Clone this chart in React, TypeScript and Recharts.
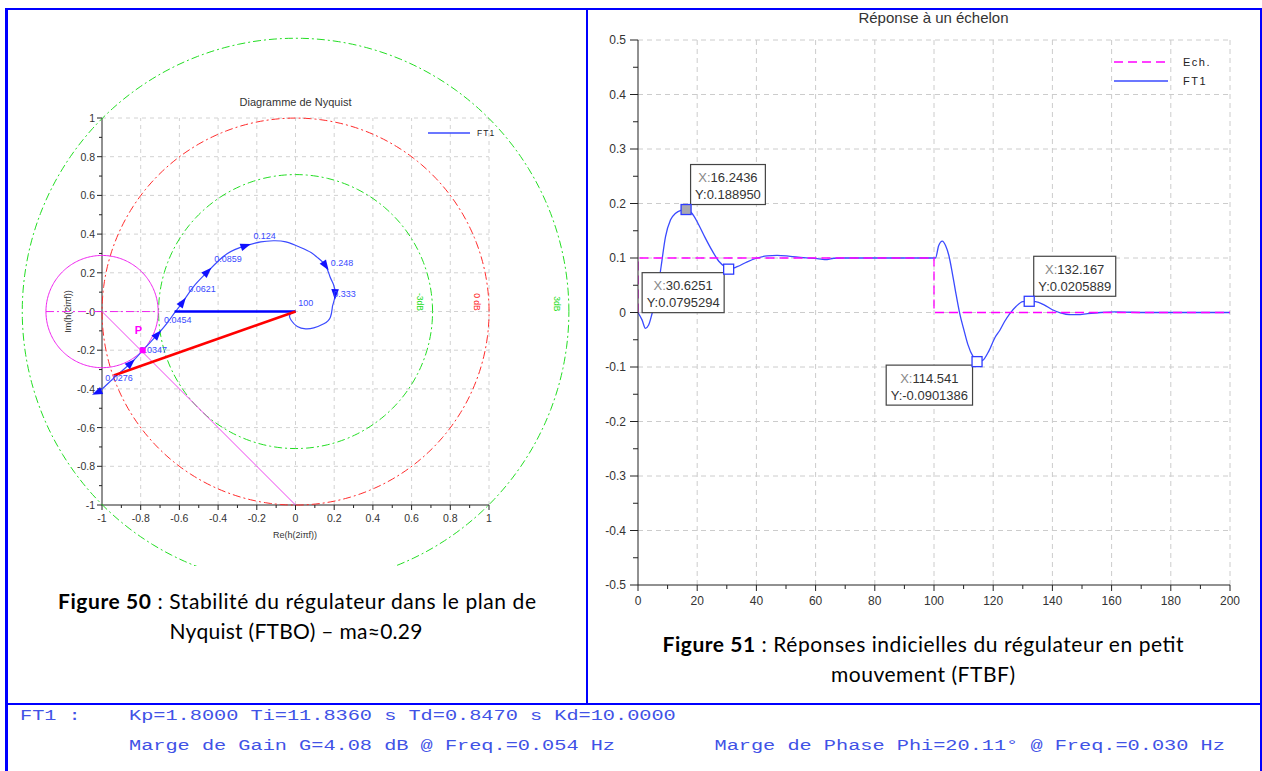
import React from 'react';
import { ComposedChart, Line, Scatter, XAxis, YAxis, ReferenceLine } from 'recharts';

const SANS = "'Liberation Sans', Arial, Helvetica, sans-serif";
const MONO = "'Liberation Mono', 'Courier New', monospace";
const CAPTION = "Lato, 'Open Sans', sans-serif";

/* ================= Figure 50 : Nyquist (FTBO) ================= */
const nyqRe = [-1.03, -1.005, -0.93, -0.851, -0.79, -0.713, -0.66, -0.621, -0.584, -0.528, -0.455, -0.356, -0.258, -0.18, -0.115, -0.05, 0.026, 0.08, 0.112, 0.155, 0.178, 0.196, 0.204, 0.195, 0.19, 0.18, 0.146, 0.094, 0.052, 0.009, -0.022, -0.031, -0.017, 0];
const nyqIm = [-0.415, -0.404, -0.335, -0.266, -0.201, -0.118, -0.055, 0.0, 0.048, 0.128, 0.206, 0.298, 0.34, 0.36, 0.366, 0.36, 0.331, 0.305, 0.28, 0.237, 0.18, 0.14, 0.09, 0.042, 0.022, -0.029, -0.063, -0.084, -0.089, -0.077, -0.046, -0.021, -0.003, 0];
const nyqArrowRe = [-1.026, -0.851, -0.713, -0.584, -0.455, -0.258, 0.155, 0.204];
const nyqArrowIm = [-0.418, -0.266, -0.118, 0.048, 0.206, 0.34, 0.237, 0.09];
const nyqArrowBackward = [true, false, false, false, false, false, false, false];
const nyqFreqLabels = ['0.0276', '0.0347', '0.0454', '0.0621', '0.0859', '0.124', '0.248', '0.333', '100'];
const nyqFreqRe = [-0.984, -0.807, -0.68, -0.554, -0.42, -0.218, 0.182, 0.195, 0.014];
const nyqFreqIm = [-0.345, -0.199, -0.044, 0.116, 0.27, 0.392, 0.252, 0.09, 0.045];
const circleGainsDb = [-3, 0, 3];
const circleLabels = ['-3dB', '0 dB', '3dB'];
const circleLabelRe = [0.643, 0.938, 1.35];
const circleLabelIm = [0.05, 0.05, 0.04];
const modulusCenterRe = -1;
const modulusCenterIm = 0;
const modulusMargin = 0.29;
const gainMarginRe = [-0.625, 0];
const gainMarginIm = [0, 0];
const phaseMarginRe = [-0.94, 0];
const phaseMarginIm = [-0.33, 0];
const diagRe = [-1, 0];
const diagIm = [0, -1];
const pointPRe = -0.79;
const pointPIm = -0.2;
const pLabelRe = -0.812;
const pLabelIm = -0.095;
const nyqMajor = [-1, -0.8, -0.6, -0.4, -0.2, 0, 0.2, 0.4, 0.6, 0.8, 1];
const nyqMinor = [-0.9, -0.7, -0.5, -0.3, -0.1, 0.1, 0.3, 0.5, 0.7, 0.9];
const nyqXLabels = ['-1', '-0.8', '-0.6', '-0.4', '-0.2', '0', '0.2', '0.4', '0.6', '0.8', '1'];
const nyqYLabels = ['-1', '-0.8', '-0.6', '-0.4', '-0.2', '-0', '0.2', '0.4', '0.6', '0.8', '1'];

/* ================= Figure 51 : step response (FTBF) ================= */
const ftT = [0, 1.4, 2.5, 3.6, 4.8, 6.5, 7.8, 9.3, 11, 12.7, 14.5, 16.2436, 18.9, 20.5, 22.8, 25.1, 27.3, 29.6, 30.6251, 33.5, 36.9, 40.3, 43.6, 47, 51.4, 55.9, 60.5, 63.9, 66.1, 69.5, 80, 90, 100, 100.5, 101.6, 102.8, 103.9, 105, 106.2, 107.3, 108.7, 110.1, 111.4, 113.3, 114.541, 116.4, 118.6, 120.7, 122.2, 123.8, 125.5, 127.7, 130, 132.167, 134.3, 137.2, 140, 142.9, 145.7, 148.5, 151.9, 156.4, 161, 172, 185, 200];
const ftY = [0, -0.014, -0.029, -0.023, -0.001, 0.035, 0.084, 0.139, 0.17, 0.182, 0.1875, 0.18895, 0.177, 0.161, 0.136, 0.113, 0.094, 0.083, 0.0795294, 0.084, 0.093, 0.1, 0.104, 0.105, 0.103, 0.1005, 0.099, 0.097, 0.0995, 0.1, 0.1, 0.1, 0.1, 0.1, 0.123, 0.131, 0.123, 0.105, 0.072, 0.038, -0.002, -0.032, -0.058, -0.082, -0.0901386, -0.088, -0.07, -0.045, -0.033, -0.017, -0.003, 0.011, 0.02, 0.0205889, 0.02, 0.014, 0.005, -0.001, -0.004, -0.004, -0.002, 0, 0.001, 0, 0, 0];
const echT = [0, 0, 100, 100, 200];
const echY = [0, 0.1, 0.1, 0, 0];
const tipX = [16.2436, 30.6251, 114.541, 132.167];
const tipY = [0.18895, 0.0795294, -0.0901386, 0.0205889];
const tipXText = ['16.2436', '30.6251', '114.541', '132.167'];
const tipYText = ['0.188950', '0.0795294', '-0.0901386', '0.0205889'];
const tipPlacement = ['ur', 'll', 'll', 'ur'];
const tipSelected = [true, false, false, false];
const rXMajor = [0, 20, 40, 60, 80, 100, 120, 140, 160, 180, 200];
const rXMinor = [10, 30, 50, 70, 90, 110, 130, 150, 170, 190];
const rXLabels = ['0', '20', '40', '60', '80', '100', '120', '140', '160', '180', '200'];
const rYMajor = [-0.5, -0.4, -0.3, -0.2, -0.1, 0, 0.1, 0.2, 0.3, 0.4, 0.5];
const rYMinor = [-0.45, -0.35, -0.25, -0.15, -0.05, 0.05, 0.15, 0.25, 0.35, 0.45];
const rYLabels = ['-0.5', '-0.4', '-0.3', '-0.2', '-0.1', '0', '0.1', '0.2', '0.3', '0.4', '0.5'];

/* ---------------- derived tables ---------------- */
const sortNum = (a: number[]) => [...a].sort((p, q) => p - q);
const nyqTicks = sortNum([...nyqMajor, ...nyqMinor]);
const rXTicks = sortNum([...rXMajor, ...rXMinor]);
const rYTicks = sortNum([...rYMajor, ...rYMinor]);

const nyqCurve = nyqRe.map((x, i) => ({ x, y: nyqIm[i] }));
const nyqArrows = nyqArrowRe.map((x, k) => {
  const y = nyqArrowIm[k];
  let best = 0;
  let bd = Infinity;
  nyqCurve.forEach((p, i) => {
    const d = (p.x - x) ** 2 + (p.y - y) ** 2;
    if (d < bd) { bd = d; best = i; }
  });
  const a = nyqCurve[Math.max(best - 1, 0)];
  const b = nyqCurve[Math.min(best + 1, nyqCurve.length - 1)];
  const s = nyqArrowBackward[k] ? -1 : 1;
  return { x, y, dx: s * (b.x - a.x), dy: s * (b.y - a.y) };
});
const nyqFreq = nyqFreqLabels.map((label, i) => ({ x: nyqFreqRe[i], y: nyqFreqIm[i], label }));
const circleColors = ['#22dd22', '#ff2a2a', '#22dd22'];
const CIRCLE_STEPS = 240;
const circlePts = (cx: number, cy: number, r: number) =>
  Array.from({ length: CIRCLE_STEPS + 1 }, (_, k) => {
    const a = (2 * Math.PI * k) / CIRCLE_STEPS;
    return { x: cx + r * Math.cos(a), y: cy + r * Math.sin(a) };
  });
const gainCircles = circleGainsDb.map((db) => circlePts(0, 0, Math.pow(10, db / 20)));
const circleLabelData = circleLabels.map((label, i) => ({ x: circleLabelRe[i], y: circleLabelIm[i], label, color: circleColors[i] }));
const modulusCircle = circlePts(modulusCenterRe, modulusCenterIm, modulusMargin);
const modulusDiameter = [
  { x: modulusCenterRe - modulusMargin, y: modulusCenterIm },
  { x: modulusCenterRe + modulusMargin, y: modulusCenterIm },
];
const gainMarginLine = gainMarginRe.map((x, i) => ({ x, y: gainMarginIm[i] }));
const phaseMarginLine = phaseMarginRe.map((x, i) => ({ x, y: phaseMarginIm[i] }));
const diagLine = diagRe.map((x, i) => ({ x, y: diagIm[i] }));
const pPoint = [{ x: pointPRe, y: pointPIm }];
const pLabel = [{ x: pLabelRe, y: pLabelIm }];

const ftData = ftT.map((x, i) => ({ x, y: ftY[i] }));
const echData = echT.map((x, i) => ({ x, y: echY[i] }));
const tipData = tipX.map((x, i) => ({
  x, y: tipY[i], xt: tipXText[i], yt: tipYText[i], place: tipPlacement[i], sel: tipSelected[i],
}));

/* ---------------- geometry ---------------- */
const NY_PX = 193.5;
const NY_EXT = 1.45;
const NY_CX = 295.5;
const NY_CY = 311.5;
const aSize = 2 * NY_EXT * NY_PX;
const aLeft = NY_CX - aSize / 2;
const aTop = NY_CY - aSize / 2;

/* ---------------- helpers ---------------- */
let measureCtx: CanvasRenderingContext2D | null = null;
const textWidth = (s: string, font: string) => {
  if (!measureCtx) measureCtx = document.createElement('canvas').getContext('2d');
  if (!measureCtx) return s.length * 7;
  measureCtx.font = font;
  return measureCtx.measureText(s).width;
};
const findIdx = (arr: number[], v: number) => arr.findIndex((m) => Math.abs(m - v) < 1e-6);

const NyYTick = (p: any) => {
  const i = findIdx(nyqMajor, p.payload.value);
  const len = i >= 0 ? 5 : 3;
  return (
    <g>
      <line x1={p.x - len} x2={p.x} y1={p.y} y2={p.y} stroke="#222" strokeWidth={1} />
      {i >= 0 && (
        <text x={p.x - 7} y={p.y} textAnchor="end" dominantBaseline="central" fontSize={10.5} fill="#333" fontFamily={SANS}>
          {nyqYLabels[i]}
        </text>
      )}
    </g>
  );
};
const NyXTick = (p: any) => {
  const i = findIdx(nyqMajor, p.payload.value);
  const len = i >= 0 ? 5 : 3;
  return (
    <g>
      <line x1={p.x} x2={p.x} y1={p.y} y2={p.y + len} stroke="#222" strokeWidth={1} />
      {i >= 0 && (
        <text x={p.x} y={p.y + 13} textAnchor="middle" dominantBaseline="central" fontSize={10.5} fill="#333" fontFamily={SANS}>
          {nyqXLabels[i]}
        </text>
      )}
    </g>
  );
};
const RYTick = (p: any) => {
  const i = findIdx(rYMajor, p.payload.value);
  const len = i >= 0 ? 8 : 5;
  return (
    <g>
      <line x1={p.x - len} x2={p.x} y1={p.y} y2={p.y} stroke="#222" strokeWidth={1} />
      {i >= 0 && (
        <text x={p.x - 12} y={p.y} textAnchor="end" dominantBaseline="central" fontSize={12} fill="#333" fontFamily={SANS}>
          {rYLabels[i]}
        </text>
      )}
    </g>
  );
};
const RXTick = (p: any) => {
  const i = findIdx(rXMajor, p.payload.value);
  const len = i >= 0 ? 6 : 4;
  return (
    <g>
      <line x1={p.x} x2={p.x} y1={p.y} y2={p.y + len} stroke="#222" strokeWidth={1} />
      {i >= 0 && (
        <text x={p.x} y={p.y + 16} textAnchor="middle" dominantBaseline="central" fontSize={12} fill="#333" fontFamily={SANS}>
          {rXLabels[i]}
        </text>
      )}
    </g>
  );
};

const ArrowShape = (props: any) => {
  const { cx, cy, payload } = props;
  const ang = (Math.atan2(-payload.dy, payload.dx) * 180) / Math.PI;
  return <polygon points="5.5,0 -5,-3.8 -5,3.8" transform={`translate(${cx},${cy}) rotate(${ang})`} fill="#1010ff" />;
};
const FreqLabelShape = (props: any) => (
  <text x={props.cx} y={props.cy} dominantBaseline="central" fontSize={9} fill="#3a4aff" fontFamily={SANS}>
    {props.payload.label}
  </text>
);
const CircleLabelShape = (props: any) => (
  <text transform={`translate(${props.cx},${props.cy}) rotate(90)`} textAnchor="middle" dominantBaseline="central" fontSize={8.5} fill={props.payload.color} fontFamily={SANS}>
    {props.payload.label}
  </text>
);
const PPointShape = (props: any) => <rect x={props.cx - 3} y={props.cy - 3} width={6} height={6} fill="#ff00ff" />;
const PLabelShape = (props: any) => (
  <text x={props.cx} y={props.cy} textAnchor="middle" dominantBaseline="central" fontSize={11} fontWeight="bold" fill="#ff00ff" fontFamily={SANS}>
    P
  </text>
);

const TIP_FONT = `13px ${SANS}`;
const TipShape = (props: any) => {
  const { cx, cy, payload } = props;
  const l1 = 'X:' + payload.xt;
  const l2 = 'Y:' + payload.yt;
  const w = Math.max(textWidth(l1, TIP_FONT), textWidth(l2, TIP_FONT)) + 9;
  const h = 40;
  const bx = payload.place === 'ur' ? cx + 4.5 : cx - 4.5 - w;
  const by = payload.place === 'ur' ? cy - 5 - h : cy + 3.5;
  return (
    <g>
      <rect x={bx} y={by} width={w} height={h} fill="#fff" stroke="#444" strokeWidth={1.2} />
      <text x={bx + w / 2} y={by + 12.5} textAnchor="middle" dominantBaseline="central" fontSize={13} fontFamily={SANS}>
        <tspan fill="#888">X:</tspan>
        <tspan fill="#333">{payload.xt}</tspan>
      </text>
      <text x={bx + w / 2} y={by + 30} textAnchor="middle" dominantBaseline="central" fontSize={13} fill="#333" fontFamily={SANS}>
        {l2}
      </text>
      <rect x={cx - 5} y={cy - 5} width={10} height={10} fill={payload.sel ? '#a8a8b0' : '#fff'} stroke="#2e3cff" strokeWidth={1.3} />
    </g>
  );
};

const BLUE = '#0000ff';
const Frame = ({ l, t, w, h }: { l: number; t: number; w: number; h: number }) => (
  <div style={{ position: 'absolute', left: l, top: t, width: w, height: h, background: BLUE }} />
);

export default function App() {
  const noDot = { dot: false as const, activeDot: false as const, isAnimationActive: false, legendType: 'none' as const };
  return (
    <div style={{ position: 'absolute', left: 0, top: 0, width: 1262, height: 771, background: '#fff', overflow: 'hidden', fontFamily: SANS }}>
      {/* ---------- Nyquist axes & grid ---------- */}
      <div style={{ position: 'absolute', left: 52, top: 98 }}>
        <ComposedChart width={447} height={447} margin={{ top: 20, right: 10, bottom: 0, left: 0 }}>
          <XAxis type="number" dataKey="x" domain={[-1, 1]} allowDataOverflow ticks={nyqTicks} interval={0} tickSize={0} tickMargin={0} tickLine={false} tick={NyXTick} height={40} axisLine={{ stroke: '#222' }} />
          <YAxis type="number" dataKey="y" domain={[-1, 1]} allowDataOverflow ticks={nyqTicks} interval={0} tickSize={0} tickMargin={0} tickLine={false} tick={NyYTick} width={50} axisLine={{ stroke: '#222' }} />
          {nyqMajor.filter((v) => v !== -1).map((v) => (
            <ReferenceLine key={'gx' + v} x={v} stroke="#d2d2d2" strokeDasharray="4 4" />
          ))}
          {nyqMajor.filter((v) => v !== -1).map((v) => (
            <ReferenceLine key={'gy' + v} y={v} stroke="#d2d2d2" strokeDasharray="4 4" />
          ))}
        </ComposedChart>
      </div>

      {/* ---------- Nyquist data (wide domain so circles are not clipped) ---------- */}
      <div style={{ position: 'absolute', left: aLeft, top: aTop, width: aSize, height: 566 - aTop, overflow: 'hidden' }}>
        <ComposedChart width={aSize} height={aSize} margin={{ top: 0, right: 0, bottom: 0, left: 0 }}>
          <XAxis type="number" dataKey="x" domain={[-NY_EXT, NY_EXT]} hide />
          <YAxis type="number" dataKey="y" domain={[-NY_EXT, NY_EXT]} hide />
          {gainCircles.map((pts, i) => (
            <Line key={'c' + i} data={pts} dataKey="y" type="linear" stroke={circleColors[i]} strokeWidth={1} strokeDasharray="8 3 2 3" {...noDot} />
          ))}
          <Scatter data={circleLabelData} dataKey="y" shape={CircleLabelShape} isAnimationActive={false} legendType="none" />
          <Line data={modulusCircle} dataKey="y" type="linear" stroke="#ee22ee" strokeWidth={1} {...noDot} />
          <Line data={modulusDiameter} dataKey="y" type="linear" stroke="#ee22ee" strokeWidth={1} strokeDasharray="8 3 2 3" {...noDot} />
          <Line data={diagLine} dataKey="y" type="linear" stroke="#ee44ee" strokeWidth={1} {...noDot} />
          <Line data={nyqCurve} dataKey="y" type="natural" stroke="#3a4aff" strokeWidth={1.2} {...noDot} />
          <Scatter data={nyqArrows} dataKey="y" shape={ArrowShape} isAnimationActive={false} legendType="none" />
          <Line data={gainMarginLine} dataKey="y" type="linear" stroke="#0000ff" strokeWidth={2.4} {...noDot} />
          <Scatter data={nyqFreq} dataKey="y" shape={FreqLabelShape} isAnimationActive={false} legendType="none" />
          <Line data={phaseMarginLine} dataKey="y" type="linear" stroke="#ff0000" strokeWidth={2.6} {...noDot} />
          <Scatter data={pPoint} dataKey="y" shape={PPointShape} isAnimationActive={false} legendType="none" />
          <Scatter data={pLabel} dataKey="y" shape={PLabelShape} isAnimationActive={false} legendType="none" />
        </ComposedChart>
      </div>

      {/* ---------- Step response ---------- */}
      <div style={{ position: 'absolute', left: 577.5, top: 20 }}>
        <ComposedChart width={672} height={595} margin={{ top: 20, right: 20, bottom: 0, left: 0 }}>
          <XAxis type="number" dataKey="x" domain={[0, 200]} allowDataOverflow ticks={rXTicks} interval={0} tickSize={0} tickMargin={0} tickLine={false} tick={RXTick} height={30} axisLine={{ stroke: '#222' }} />
          <YAxis type="number" dataKey="y" domain={[-0.5, 0.5]} allowDataOverflow ticks={rYTicks} interval={0} tickSize={0} tickMargin={0} tickLine={false} tick={RYTick} width={60} axisLine={{ stroke: '#222' }} />
          {rXMajor.filter((v) => v !== 0).map((v) => (
            <ReferenceLine key={'rx' + v} x={v} stroke="#cccccc" strokeDasharray="5 4" />
          ))}
          {rYMajor.filter((v) => v !== -0.5).map((v) => (
            <ReferenceLine key={'ry' + v} y={v} stroke="#cccccc" strokeDasharray="5 4" />
          ))}
          <Line data={ftData} dataKey="y" type="monotone" stroke="#3a4aff" strokeWidth={1.3} {...noDot} />
          <Line data={echData} dataKey="y" type="linear" stroke="#ff00ff" strokeWidth={1.3} strokeDasharray="9 5" {...noDot} />
          <Scatter data={tipData} dataKey="y" shape={TipShape} isAnimationActive={false} legendType="none" />
        </ComposedChart>
      </div>

      {/* ---------- texts, legends, captions ---------- */}
      <svg width={1262} height={771} style={{ position: 'absolute', left: 0, top: 0, pointerEvents: 'none' }}>
        <text x={295.5} y={102} textAnchor="middle" dominantBaseline="central" fontSize={11} fill="#333" fontFamily={SANS}>Diagramme de Nyquist</text>
        <text x={295} y={534.5} textAnchor="middle" dominantBaseline="central" fontSize={9} fill="#333" fontFamily={SANS}>Re(h(2iπf))</text>
        <text transform="translate(68,311.5) rotate(-90)" textAnchor="middle" dominantBaseline="central" fontSize={9} fill="#333" fontFamily={SANS}>Im(h(2iπf))</text>
        <line x1={428} x2={470} y1={133} y2={133} stroke="#3a4aff" strokeWidth={1.3} />
        <text x={477} y={133} dominantBaseline="central" fontSize={8.5} letterSpacing={1} fill="#222" fontFamily={SANS}>FT1</text>

        <text x={933.5} y={17} textAnchor="middle" dominantBaseline="central" fontSize={15} fill="#333" fontFamily={SANS}>Réponse à un échelon</text>
        <line x1={1114} x2={1168} y1={62} y2={62} stroke="#ff00ff" strokeWidth={1.4} strokeDasharray="9 5" />
        <text x={1183} y={62} dominantBaseline="central" fontSize={11} letterSpacing={1.5} fill="#222" fontFamily={SANS}>Ech.</text>
        <line x1={1114} x2={1168} y1={81} y2={81} stroke="#3a4aff" strokeWidth={1.4} />
        <text x={1183} y={81} dominantBaseline="central" fontSize={11} letterSpacing={1.5} fill="#222" fontFamily={SANS}>FT1</text>

        <text x={297} y={600} textAnchor="middle" dominantBaseline="central" fontSize={21} fill="#000" fontFamily={CAPTION} textLength={478}>
          <tspan fontWeight="bold">Figure 50</tspan> : Stabilité du régulateur dans le plan de
        </text>
        <text x={296} y={630} textAnchor="middle" dominantBaseline="central" fontSize={21} fill="#000" fontFamily={CAPTION} textLength={253}>
          Nyquist (FTBO) – ma≈0.29
        </text>
        <text x={923} y={643} textAnchor="middle" dominantBaseline="central" fontSize={21} fill="#000" fontFamily={CAPTION} textLength={521}>
          <tspan fontWeight="bold">Figure 51</tspan> : Réponses indicielles du régulateur en petit
        </text>
        <text x={923} y={673} textAnchor="middle" dominantBaseline="central" fontSize={21} fill="#000" fontFamily={CAPTION} textLength={184}>
          mouvement (FTBF)
        </text>

        <text x={20} y={716} dominantBaseline="central" fontSize={14} fill="#4152e6" fontFamily={MONO} textLength={5 * 12.15} lengthAdjust="spacingAndGlyphs">FT1 :</text>
        <text x={129} y={716} dominantBaseline="central" fontSize={14} fill="#4152e6" fontFamily={MONO} textLength={45 * 12.15} lengthAdjust="spacingAndGlyphs">Kp=1.8000 Ti=11.8360 s Td=0.8470 s Kd=10.0000</text>
        <text x={129} y={746} dominantBaseline="central" fontSize={14} fill="#4152e6" fontFamily={MONO} textLength={40 * 12.15} lengthAdjust="spacingAndGlyphs">Marge de Gain G=4.08 dB @ Freq.=0.054 Hz</text>
        <text x={714.5} y={746} dominantBaseline="central" fontSize={14} fill="#4152e6" fontFamily={MONO} textLength={42 * 12.15} lengthAdjust="spacingAndGlyphs">Marge de Phase Phi=20.11° @ Freq.=0.030 Hz</text>
      </svg>

      {/* ---------- blue frame ---------- */}
      <Frame l={5} t={7.5} w={1257} h={2.5} />
      <Frame l={5} t={7.5} w={2.5} h={764} />
      <Frame l={1259.5} t={9} w={2.5} h={762} />
      <Frame l={585.8} t={7.5} w={2.5} h={697.5} />
      <Frame l={5} t={702.8} w={1257} h={2.5} />
    </div>
  );
}
